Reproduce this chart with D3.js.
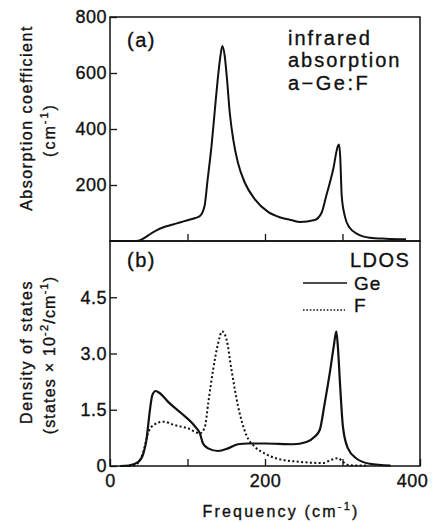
<!DOCTYPE html>
<html>
<head>
<meta charset="utf-8">
<script src="https://cdn.jsdelivr.net/npm/d3@7"></script>
<style>
  body { margin: 0; background: #fff; }
  svg text { font-family: "Liberation Sans", Arial, sans-serif; fill: #111; stroke: #111; stroke-width: 0.35px; }
</style>
</head>
<body>
<div id="chart"></div>
<script>
const WIDTH = 432
const HEIGHT = 522

// data
const absFreq = [0, 30, 38, 45, 52, 60, 70, 80, 90, 100, 110, 116, 122, 126, 131, 135, 139, 142.5, 145, 148,
  151, 154.5, 159, 165, 174, 187, 204, 220, 235, 245, 264, 273, 279, 288, 294, 295.5, 297, 299, 303, 309,
  320, 335, 356, 382]
const absValue = [0, 0, 2, 12, 25, 38, 50, 58, 66, 74, 82, 89, 125, 220, 340, 459, 577, 661, 696, 661,
  577, 459, 363, 280, 208, 149, 104, 84, 74, 68, 75, 101, 161, 256, 339, 345, 304, 161, 89, 48,
  24, 12, 8, 6]

const geFreq = [13, 24, 36.5, 43, 47, 51.5, 54.6, 58.9, 64.4, 75, 92.4, 109.5, 116, 120, 126.7, 139.6, 152.4, 165, 178, 200,
  236, 253.5, 264, 270.6, 277, 283.5, 288.7, 292, 294, 297, 300.6, 307, 318, 335, 362]
const geValue = [0, 0.01, 0.11, 0.33, 0.69, 1.49, 1.89, 2.0, 1.94, 1.71, 1.40, 1.06, 0.87, 0.60, 0.47, 0.40, 0.47, 0.58, 0.60, 0.60,
  0.58, 0.64, 0.78, 0.96, 1.67, 2.47, 3.19, 3.59, 3.19, 2.12, 1.04, 0.47, 0.2, 0.06, 0.01]

const fFreq = [24, 32, 43, 49, 56, 68.7, 83.8, 101, 116, 122.4, 126.7, 133, 139.6, 144.7, 150.4, 156.8, 165.4, 176, 187, 200,
  215, 245, 275, 286, 294, 300.6, 309, 331]
const fValue = [0, 0.02, 0.38, 0.87, 1.09, 1.18, 1.09, 1.0, 0.87, 1.04, 1.67, 2.56, 3.28, 3.59, 3.37, 2.56, 1.58, 0.82, 0.51, 0.33,
  0.2, 0.11, 0.08, 0.17, 0.21, 0.11, 0.02, 0.01]

const xTicks = [0, 100, 200, 300, 400]
const xTickLabels = ["0", "", "200", "", "400"]
const absTicks = [200, 400, 600, 800]
const dosTicks = [0, 1.5, 3, 4.5]
const dosTickLabels = ["0", "1.5", "3.0", "4.5"]

const svg = d3.select("#chart")
    .append("svg")
    .attr("width", WIDTH)
    .attr("height", HEIGHT)

const x = d3.scaleLinear().domain([0, 400]).range([110, 420])
const yAbs = d3.scaleLinear().domain([0, 800]).range([241, 17])
const yDos = d3.scaleLinear().domain([0, 6]).range([466, 241])

// frames
svg.append("rect")
    .attr("x", 110).attr("y", 17).attr("width", 310).attr("height", 224)
    .attr("fill", "none").attr("stroke", "#111").attr("stroke-width", 1.5)
svg.append("rect")
    .attr("x", 110).attr("y", 241).attr("width", 310).attr("height", 225)
    .attr("fill", "none").attr("stroke", "#111").attr("stroke-width", 1.5)

// axes
function styleAxis(g) {
    g.select(".domain").remove()
    g.selectAll("line").attr("stroke", "#111").attr("stroke-width", 1.3)
    g.selectAll("text")
        .attr("font-family", "Liberation Sans, Arial, sans-serif")
        .attr("font-size", 18)
        .attr("letter-spacing", 0.5)
        .attr("fill", "#111")
}

svg.append("g")
    .attr("transform", "translate(0,241)")
    .call(d3.axisBottom(x).tickValues([100, 200, 300]).tickSizeInner(-7).tickSizeOuter(0).tickFormat(""))
    .call(styleAxis)

svg.append("g")
    .attr("transform", "translate(0,466)")
    .call(d3.axisBottom(x).tickValues(xTicks).tickSizeInner(-7).tickSizeOuter(0).tickPadding(8)
        .tickFormat((d, i) => xTickLabels[i]))
    .call(styleAxis)
    .call(g => g.selectAll(".tick text").filter(d => d === 400).attr("dx", -8))

svg.append("g")
    .attr("transform", "translate(110,0)")
    .call(d3.axisLeft(yAbs).tickValues(absTicks).tickSizeInner(-7).tickSizeOuter(0).tickPadding(3)
        .tickFormat(d3.format("d")))
    .call(styleAxis)

svg.append("g")
    .attr("transform", "translate(110,0)")
    .call(d3.axisLeft(yDos).tickValues(dosTicks).tickSizeInner(-7).tickSizeOuter(0).tickPadding(3)
        .tickFormat((d, i) => dosTickLabels[i]))
    .call(styleAxis)

// curves
const absLine = d3.line()
    .x((d, i) => x(absFreq[i]))
    .y(d => yAbs(d))
    .curve(d3.curveMonotoneX)

svg.append("path")
    .attr("d", absLine(absValue))
    .attr("fill", "none").attr("stroke", "#111").attr("stroke-width", 2)

const geLine = d3.line()
    .x((d, i) => x(geFreq[i]))
    .y(d => yDos(d))
    .curve(d3.curveMonotoneX)

svg.append("path")
    .attr("d", geLine(geValue))
    .attr("fill", "none").attr("stroke", "#111").attr("stroke-width", 2.2)

const fLine = d3.line()
    .x((d, i) => x(fFreq[i]))
    .y(d => yDos(d))
    .curve(d3.curveMonotoneX)

svg.append("path")
    .attr("d", fLine(fValue))
    .attr("fill", "none").attr("stroke", "#111").attr("stroke-width", 2)
    .attr("stroke-dasharray", "2,2.4")

// legend
svg.append("line")
    .attr("x1", 303).attr("x2", 347).attr("y1", 283).attr("y2", 283)
    .attr("stroke", "#111").attr("stroke-width", 1.6)
svg.append("line")
    .attr("x1", 303).attr("x2", 345).attr("y1", 310).attr("y2", 310)
    .attr("stroke", "#111").attr("stroke-width", 1.6).attr("stroke-dasharray", "1.6,1.8")

function label(txt, xp, yp, size, spacing) {
    return svg.append("text")
        .attr("x", xp).attr("y", yp)
        .attr("font-size", size)
        .attr("letter-spacing", spacing)
        .text(txt)
}

label("Ge", 354, 290, 19, 1)
label("F", 354, 312, 19, 1)
label("LDOS", 350, 267, 20, 1.5)
label("(a)", 127, 47, 20, 1.5)
label("(b)", 127, 267, 20, 1.5)
label("infrared", 288, 45, 20, 2)
label("absorption", 288, 67, 20, 2)
label("a\u2212Ge:F", 288, 90, 20, 2.5)

// axis titles
const xTitle = svg.append("text")
    .attr("x", 281).attr("y", 517)
    .attr("text-anchor", "middle")
    .attr("font-size", 16)
    .attr("letter-spacing", 2.2)
xTitle.append("tspan").text("Frequency (cm")
xTitle.append("tspan").attr("font-size", 11).attr("dy", -7).text("-1")
xTitle.append("tspan").attr("dy", 7).text(")")

function yTitle(parts, cx, cy, size, spacing) {
    const t = svg.append("text")
        .attr("transform", `translate(${cx},${cy}) rotate(-90)`)
        .attr("text-anchor", "middle")
        .attr("font-size", size)
        .attr("letter-spacing", spacing)
    parts.forEach(p => {
        const s = t.append("tspan").text(p.t)
        if (p.sup) s.attr("font-size", 11).attr("dy", -7)
        if (p.down) s.attr("dy", 7)
    })
}

yTitle([{ t: "Absorption coefficient" }], 32, 118, 16, 1.5)
yTitle([{ t: "(cm" }, { t: "-1", sup: true }, { t: ")", down: true }], 55, 130, 16, 2)
yTitle([{ t: "Density of states" }], 32, 352, 16, 1.5)
yTitle([{ t: "(states \u00d7 10" }, { t: "-2", sup: true }, { t: "/cm", down: true }, { t: "-1", sup: true }, { t: ")", down: true }], 55, 355, 16, 1.2)
</script>
</body>
</html>
